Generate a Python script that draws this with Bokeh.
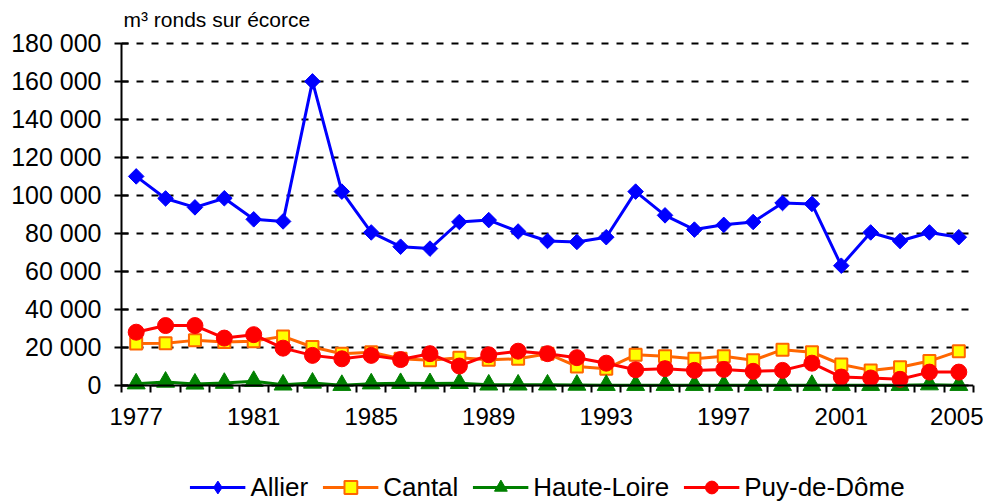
import math
from bokeh.plotting import figure
from bokeh.layouts import column
from bokeh.models import Range1d, FixedTicker, Legend, LegendItem, Span, Label
from bokeh.embed import file_html
from bokeh.resources import INLINE

years = list(range(1977, 2006))
allier = [110000, 98400, 93700, 98500, 87400, 86300, 160000, 102000, 80500, 73000,
          72000, 86000, 87000, 81000, 76000, 75500, 78000, 102000, 89500, 82000,
          84500, 86000, 96000, 95500, 63000, 80500, 76000, 80500, 78000]
cantal = [22000, 22200, 23700, 22800, 23300, 25800, 20200, 16700, 17500, 14000,
          13200, 14600, 13500, 14000, 16700, 10000, 8800, 16100, 15300, 14000,
          15300, 13200, 18800, 17500, 11000, 7900, 9600, 12800, 18000]
haute_loire = [900, 1800, 800, 1200, 2200, 300, 1300, 100, 900, 1100,
               1000, 1100, 300, 300, 300, 200, 100, 100, 100, 100,
               100, 100, 100, 100, 100, 100, 100, 400, 100]
puy_de_dome = [28000, 31500, 31500, 24900, 26700, 19600, 15800, 14000, 15800, 13600,
               16700, 10200, 16100, 18000, 16700, 14600, 11700, 8200, 8800, 7900,
               8400, 7400, 7900, 11700, 4400, 3900, 3200, 7000, 7000]
series_names = ["Allier", "Cantal", "Haute-Loire", "Puy-de-Dôme"]
year_labels = [1977, 1981, 1985, 1989, 1993, 1997, 2001, 2005]
y_ticks = list(range(0, 180001, 20000))
unit_label = "m³ ronds sur écorce"

FONT = "Liberation Sans"

# view geometry: 0 -> 385 px, 180 000 -> 43 px; frame spans 0..402 px
PX_PER_UNIT = 342 / 180000
Y_START = -9000
Y_END = Y_START + 402 / PX_PER_UNIT

p = figure(width=983, height=470, output_backend="svg", toolbar_location=None,
           x_range=Range1d(years[0] - 0.5, years[-1] + 0.5),
           y_range=Range1d(Y_START, Y_END),
           min_border_left=121, min_border_right=10, min_border_top=0,
           min_border_bottom=68)
p.outline_line_color = None
p.background_fill_color = "white"
p.border_fill_color = "white"

p.add_layout(Label(x=years[0] - 0.5, y=y_ticks[-1], x_offset=2, y_offset=24,
                   text=unit_label, text_font=FONT, text_font_size="21px",
                   text_color="black", text_baseline="alphabetic",
                   text_align="left"))

p.xgrid.visible = False
p.ygrid.ticker = FixedTicker(ticks=y_ticks)
p.ygrid.grid_line_color = "black"
p.ygrid.grid_line_width = 2
p.ygrid.grid_line_dash = "7 8"

# x axis sits at the frame bottom; its ticks are shifted up to the zero line
xa = p.xaxis[0]
xa.ticker = FixedTicker(ticks=year_labels,
                        minor_ticks=[years[0] - 0.5] + [y + 0.5 for y in years])
xa.axis_line_color = None
xa.major_tick_in = 0
xa.major_tick_out = 0
xa.minor_tick_in = 17
xa.minor_tick_out = -10
xa.minor_tick_line_color = "black"
xa.minor_tick_line_width = 2
xa.major_label_text_font = FONT
xa.major_label_text_font_size = "24px"
xa.major_label_text_color = "black"
xa.major_label_standoff = 5

p.add_layout(Span(location=y_ticks[0], dimension="width",
                  line_color="black", line_width=2))

ya = p.yaxis[0]
ya.bounds = (y_ticks[0], y_ticks[-1])
ya.ticker = FixedTicker(ticks=y_ticks, minor_ticks=[])
ya.major_label_overrides = {t: f"{t:,}".replace(",", " ") for t in y_ticks}
ya.axis_line_color = "black"
ya.axis_line_width = 2
ya.major_tick_in = 7
ya.major_tick_out = 7
ya.major_tick_line_color = "black"
ya.major_tick_line_width = 2
ya.minor_tick_line_color = None
ya.major_label_text_font = FONT
ya.major_label_text_font_size = "25px"
ya.major_label_text_color = "black"
ya.major_label_standoff = 13

styles = [
    dict(color="#0000FF", marker="square", legend_marker="diamond", size=11,
         angle=math.pi / 4, fill="#0000FF", lw=1),
    dict(color="#FF6600", marker="square", legend_marker="square", size=12,
         angle=0.0, fill="#FFFF00", lw=2),
    dict(color="#008000", marker="triangle", legend_marker="triangle", size=18,
         angle=0.0, fill="#008000", lw=1),
    dict(color="#FF0000", marker="circle", legend_marker="circle", size=16,
         angle=0.0, fill="#FF0000", lw=1),
]
all_series = [allier, cantal, haute_loire, puy_de_dome]


def draw(fig, values, st, marker):
    ln = fig.line(years, values, line_color=st["color"], line_width=3)
    mk = fig.scatter(years, values, marker=marker, size=st["size"],
                     angle=st["angle"] if marker == st["marker"] else 0.0,
                     fill_color=st["fill"], line_color=st["color"],
                     line_width=st["lw"])
    return ln, mk


for vals, st in zip(all_series, styles):
    draw(p, vals, st, st["marker"])

# legend strip below the chart (its renderers lie outside its own view)
p2 = figure(width=983, height=34, output_backend="svg", toolbar_location=None,
            x_range=Range1d(0, 1), y_range=Range1d(0, 1),
            x_axis_type=None, y_axis_type=None,
            min_border_left=121, min_border_right=10, min_border_top=0,
            min_border_bottom=0)
p2.outline_line_color = None
p2.grid.visible = False
p2.background_fill_color = "white"
p2.border_fill_color = "white"

items = []
for name, vals, st in zip(series_names, all_series, styles):
    ln, mk = draw(p2, vals, st, st["legend_marker"])
    items.append(LegendItem(label=name, renderers=[ln, mk]))

legend = Legend(items=items, orientation="horizontal", location="center",
                glyph_width=56, glyph_height=32, label_standoff=5, spacing=14,
                padding=0, margin=0, background_fill_alpha=0,
                border_line_color=None,
                label_text_font=FONT, label_text_font_size="26px",
                label_text_color="black")
p2.add_layout(legend)

layout = column(p, p2, spacing=0)
open("out.html", "w").write(file_html(layout, INLINE))
